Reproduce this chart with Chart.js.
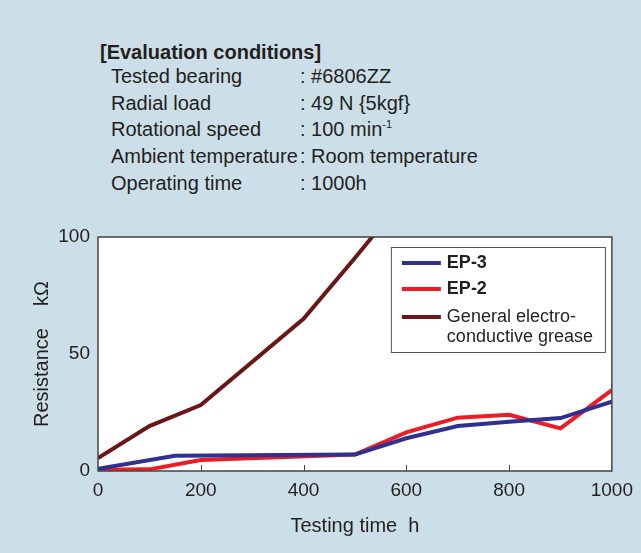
<!DOCTYPE html>
<html>
<head>
<meta charset="utf-8">
<script src="https://cdn.jsdelivr.net/npm/chart.js@4"></script>
<style>
  html, body { margin: 0; padding: 0; background: #ccdee8; }
  #wrap { position: relative; width: 641px; height: 553px; font-family: "Liberation Sans", Arial, sans-serif; color: #231f20; }
  #cond-title { position: absolute; left: 100px; top: 39px; font-size: 20px; font-weight: bold; line-height: 26px; }
  #cond { position: absolute; left: 111px; top: 63px; font-size: 20px; line-height: 26.65px; }
  #cond .row { position: relative; white-space: nowrap; }
  #cond .val { position: absolute; left: 189px; top: 0; }
  #cond sup { font-size: 11px; line-height: 0; }
  canvas { position: absolute; left: 0; top: 0; }
</style>
</head>
<body>
<div id="wrap">
  <div id="cond-title">[Evaluation conditions]</div>
  <div id="cond">
    <div class="row">Tested bearing<span class="val">: #6806ZZ</span></div>
    <div class="row">Radial load<span class="val">: 49 N {5kgf}</span></div>
    <div class="row">Rotational speed<span class="val">: 100 min<sup>-1</sup></span></div>
    <div class="row">Ambient temperature<span class="val">: Room temperature</span></div>
    <div class="row">Operating time<span class="val">: 1000h</span></div>
  </div>
  <canvas id="chart" width="641" height="553"></canvas>
</div>
<script>
// values (hours -> kOhm)
const hoursEP3 = [0, 150, 500, 600, 700, 800, 900, 1000];
const ep3 = [1, 6.5, 7, 14, 19.2, 21, 22.6, 29.6];

const hoursEP2 = [0, 100, 200, 500, 600, 700, 800, 900, 1000];
const ep2 = [0.5, 0.7, 4.7, 7, 16.5, 22.8, 24, 18.2, 34.6];

const hoursGeneral = [0, 100, 200, 400, 500, 600];
const general = [5.5, 19.2, 28.2, 65, 91, 118];

const seriesNames = ["EP-3", "EP-2", "General electro-\nconductive grease"];
const xTicks = [0, 200, 400, 600, 800, 1000];
const yTicks = [0, 50, 100];

function points(xs, ys) {
  return xs.map((x, i) => ({ x: x, y: ys[i] }));
}

const textColor = "#231f20";
const font = "Liberation Sans, Arial, sans-serif";

// white plot area, frame, inward ticks and the boxed legend
const plotDecor = {
  id: "plotDecor",
  beforeDatasetsDraw(chart) {
    const a = chart.chartArea;
    const ctx = chart.ctx;
    ctx.save();
    ctx.fillStyle = "#ffffff";
    ctx.fillRect(a.left, a.top, a.right - a.left, a.bottom - a.top);
    ctx.restore();
  },
  afterDatasetsDraw(chart) {
    const a = chart.chartArea;
    const ctx = chart.ctx;
    const xs = chart.scales.x;
    ctx.save();
    ctx.strokeStyle = "#444444";
    ctx.lineWidth = 1.5;
    ctx.strokeRect(a.left, a.top, a.right - a.left, a.bottom - a.top);
    ctx.lineWidth = 1;
    xTicks.slice(1, -1).forEach((v) => {
      const px = Math.round(xs.getPixelForValue(v)) + 0.5;
      ctx.beginPath();
      ctx.moveTo(px, a.bottom);
      ctx.lineTo(px, a.bottom - 6);
      ctx.stroke();
    });

    // legend
    const bx = a.right - 221, by = a.top + 10, bw = 214, bh = 105;
    ctx.fillStyle = "#ffffff";
    ctx.fillRect(bx, by, bw, bh);
    ctx.strokeStyle = "#555555";
    ctx.lineWidth = 1;
    ctx.strokeRect(bx + 0.5, by + 0.5, bw, bh);
    const rows = [16, 42, 70];
    chart.data.datasets.forEach((ds, i) => {
      const y = by + rows[i];
      ctx.strokeStyle = ds.borderColor;
      ctx.lineWidth = 4;
      ctx.beginPath();
      ctx.moveTo(bx + 11, y);
      ctx.lineTo(bx + 50, y);
      ctx.stroke();
      ctx.fillStyle = textColor;
      ctx.textBaseline = "middle";
      ctx.textAlign = "left";
      ctx.font = (i < 2 ? "bold " : "") + "18px " + font;
      ds.label.split("\n").forEach((line, j) => {
        ctx.fillText(line, bx + 56, y + j * 20);
      });
    });
    ctx.restore();
  }
};

new Chart(document.getElementById("chart").getContext("2d"), {
  type: "line",
  data: {
    datasets: [
      {
        label: seriesNames[0],
        data: points(hoursEP3, ep3),
        borderColor: "#2e3192",
        backgroundColor: "#2e3192",
      },
      {
        label: seriesNames[1],
        data: points(hoursEP2, ep2),
        borderColor: "#ed1c24",
        backgroundColor: "#ed1c24",
      },
      {
        label: seriesNames[2],
        data: points(hoursGeneral, general),
        borderColor: "#6a1517",
        backgroundColor: "#6a1517",
      },
    ],
  },
  options: {
    responsive: false,
    animation: false,
    layout: { padding: { left: 0, right: 28, top: 237, bottom: 0 } },
    elements: {
      line: { borderWidth: 4, tension: 0, borderJoinStyle: "miter", borderCapStyle: "butt" },
      point: { radius: 0, hoverRadius: 0 },
    },
    datasets: { line: { clip: 0 } },
    plugins: {
      legend: { display: false },
      tooltip: { enabled: false },
    },
    scales: {
      x: {
        type: "linear",
        min: 0,
        max: 1000,
        afterBuildTicks: (s) => { s.ticks = xTicks.map((v) => ({ value: v })); },
        ticks: { color: textColor, font: { family: font, size: 19 }, padding: 8, maxRotation: 0, callback: (v) => String(v) },
        grid: { display: false, drawTicks: false },
        border: { display: false },
        title: { display: true, text: "Testing time  h", color: textColor, font: { family: font, size: 20 }, padding: { top: 0, bottom: 15 } },
        afterFit: (s) => { s.height = 82; },
      },
      y: {
        type: "linear",
        min: 0,
        max: 100,
        afterBuildTicks: (s) => { s.ticks = yTicks.map((v) => ({ value: v })); },
        ticks: { color: textColor, font: { family: font, size: 19 }, padding: 8, callback: (v) => String(v) },
        grid: { display: false, drawTicks: false },
        border: { display: false },
        title: { display: true, text: "Resistance    kΩ", color: textColor, font: { family: font, size: 20 }, padding: { top: 30, bottom: 0 } },
        afterFit: (s) => { s.width = 98; },
      },
    },
  },
  plugins: [plotDecor],
});
</script>
</body>
</html>
